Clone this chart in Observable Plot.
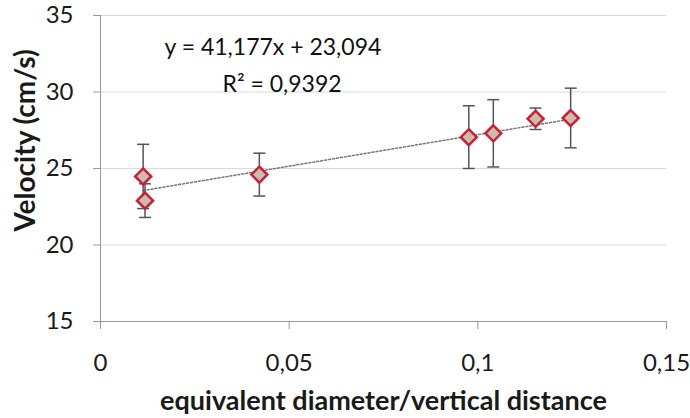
<!DOCTYPE html>
<html><head><meta charset="utf-8">
<script src="https://cdn.jsdelivr.net/npm/d3@7"></script>
<script src="https://cdn.jsdelivr.net/npm/@observablehq/plot@0.6"></script>
<style>body{margin:0;background:#fff;font-family:Lato,sans-serif}</style>
</head><body><div id="chart"></div>
<script>
const ratio = [0.0113, 0.0118, 0.0421, 0.0976, 0.1041, 0.1153, 0.1246];
const velocity = [24.48, 22.9, 24.6, 27.05, 27.3, 28.25, 28.3];
const errors = [2.1, 1.1, 1.4, 2.05, 2.2, 0.7, 1.95];
const yTicks = [15, 20, 25, 30, 35];
const xTicks = [0, 0.05, 0.1, 0.15];
const slope = 41.177, intercept = 23.094;
const equation = "y = 41,177x + 23,094";
const r2 = "R² = 0,9392";
const yLabel = "Velocity (cm/s)";
const xLabel = "equivalent diameter/vertical distance";

const data = ratio.map((x, i) => ({x, y: velocity[i], lo: velocity[i] - errors[i], hi: velocity[i] + errors[i]}));
const xr = d3.extent(ratio);
const trend = xr.map(x => ({x, y: slope * x + intercept}));
const cap = {draw(ctx, size) { const w = 6; ctx.moveTo(-w, 0); ctx.lineTo(w, 0); }};
const fmt = d => String(d).replace(".", ",");

const chart = Plot.plot({
  width: 690, height: 418,
  marginLeft: 100, marginRight: 24, marginTop: 15, marginBottom: 97,
  style: {fontFamily: "Lato, sans-serif", fontSize: "24px", color: "#1a1a1a", background: "#fff"},
  x: {domain: [0, 0.15]},
  y: {domain: [15, 35]},
  marks: [
    Plot.ruleY([20, 25, 30, 35], {stroke: "#d9d9d9", strokeWidth: 1}),
    Plot.ruleX([0], {stroke: "#999"}),
    Plot.ruleY([15], {stroke: "#999"}),
    Plot.axisY({ticks: yTicks, tickSize: 7, tickPadding: 20, stroke: "#999", fontSize: 24, label: null}),
    Plot.axisX({ticks: xTicks, tickFormat: fmt, tickSize: 8, tickPadding: 24, stroke: "#999", fontSize: 24, label: null}),
    Plot.text([yLabel], {frameAnchor: "top-left", dx: -74, dy: 125, rotate: -90, lineAnchor: "middle", textAnchor: "middle", fontSize: 28, fontWeight: "bold", fill: "#1a1a1a"}),
    Plot.text([xLabel], {frameAnchor: "bottom", dy: 80, lineAnchor: "middle", fontSize: 27, fontWeight: "bold", fill: "#1a1a1a"}),
    Plot.line(trend, {x: "x", y: "y", stroke: "#777", strokeWidth: 1.5, strokeDasharray: "2,2"}),
    Plot.ruleX(data, {x: "x", y1: "lo", y2: "hi", stroke: "#555", strokeWidth: 1.5}),
    Plot.dot(data, {x: "x", y: "lo", symbol: cap, stroke: "#555", strokeWidth: 1.5}),
    Plot.dot(data, {x: "x", y: "hi", symbol: cap, stroke: "#555", strokeWidth: 1.5}),
    Plot.dot(data, {x: "x", y: "y", symbol: "diamond2", r: 7.2, fill: "#c9bdb0", stroke: "#cc1f36", strokeWidth: 2.5}),
    Plot.text([equation], {frameAnchor: "top-left", dx: 64, dy: 23, textAnchor: "start", fontSize: 23, fill: "#111"}),
    Plot.text([r2], {frameAnchor: "top-left", dx: 122, dy: 60, textAnchor: "start", fontSize: 23, fill: "#111"})
  ]
});
document.getElementById("chart").append(chart);
</script>
</body></html>
